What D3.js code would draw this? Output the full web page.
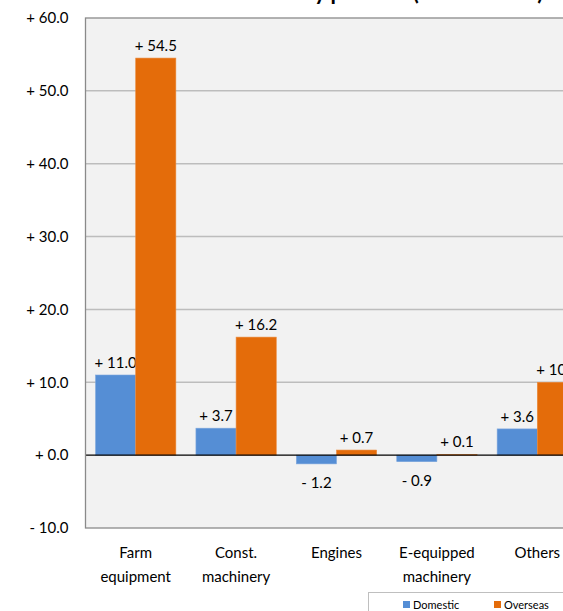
<!DOCTYPE html>
<html><head><meta charset="utf-8">
<script src="https://cdn.jsdelivr.net/npm/d3@7"></script>
<style>body{margin:0;background:#fff;} svg{display:block;font-family:Lato,"Open Sans",sans-serif;}</style>
</head><body>
<svg id="c" width="563" height="611"></svg>
<script>
const categories = [["Farm","equipment"],["Const.","machinery"],["Engines"],["E-equipped","machinery"],["Others"]];
const seriesNames = ["Domestic","Overseas"];
const domestic = [11.0, 3.7, -1.2, -0.9, 3.6];
const overseas = [54.5, 16.2, 0.7, 0.1, 10.0];
const yTicks = [-10,0,10,20,30,40,50,60];
const colors = ["#558ED5","#E46C0A"];
const title = "Sales Growth Rate by product (vs. Last Year)";

const svg = d3.select("#c");
const L = 85.5, T = 18, B = 528, R = 587.5;
const y = d3.scaleLinear().domain([-10,60]).range([B,T]);
const x0 = d3.scaleBand().domain(d3.range(categories.length)).range([L,R]).paddingInner(0.2).paddingOuter(0.1);
const x1 = d3.scaleBand().domain([0,1]).range([0,x0.bandwidth()]);
const fmt = v => (v < 0 ? "- " : "+ ") + d3.format(".1f")(Math.abs(v));

// title (cut off at the top edge, only descenders visible)
svg.append("text").attr("x",330).attr("y",-0.5).attr("text-anchor","middle")
  .attr("font-size",22).attr("font-weight","bold").attr("fill","#000").text(title);

// plot bg
svg.append("rect").attr("x",L).attr("y",T).attr("width",R-L).attr("height",B-T).attr("fill","#f2f2f2");

// grid
svg.append("g").selectAll("line").data(yTicks.filter(d=>d!==0 && d!==-10 && d!==60)).join("line")
  .attr("x1",L).attr("x2",R).attr("y1",d=>y(d)).attr("y2",d=>y(d))
  .attr("stroke","#bdbdbd").attr("stroke-width",1.5);

// y axis labels
const yAxis = d3.axisLeft(y).tickValues(yTicks).tickFormat(fmt).tickSize(0).tickPadding(17);
const ga = svg.append("g").attr("transform",`translate(${L},0)`).call(yAxis);
ga.select(".domain").remove();
ga.selectAll("text").attr("font-size",15).attr("font-family","Lato,sans-serif").attr("fill","#000");

// bars
const data = categories.map((c,i)=>({i, vals:[domestic[i], overseas[i]]}));
const g = svg.append("g");
data.forEach(d=>{
  d.vals.forEach((v,s)=>{
    const bx = x0(d.i) + x1(s);
    g.append("rect").attr("x",bx).attr("width",x1.bandwidth())
      .attr("y",y(Math.max(0,v))).attr("height",Math.abs(y(v)-y(0)))
      .attr("fill",colors[s]).attr("stroke", s===0?"#7ea7dd":"#ea8a3c").attr("stroke-width",0.6);
    g.append("text").attr("x",bx + x1.bandwidth()/2)
      .attr("y", v>=0 ? y(v)-7 : y(v)+24)
      .attr("text-anchor","middle").attr("font-size",15).attr("fill","#000").text(fmt(v));
  });
});

// zero line
svg.append("line").attr("x1",L).attr("x2",R).attr("y1",y(0)).attr("y2",y(0)).attr("stroke","#000").attr("stroke-width",1.3);
// border
svg.append("rect").attr("x",L).attr("y",T).attr("width",R-L).attr("height",B-T).attr("fill","none").attr("stroke","#8a8a8a").attr("stroke-width",1.3);

// category labels
const xa = svg.append("g");
categories.forEach((c,i)=>{
  const t = xa.append("text").attr("x",x0(i)+x0.bandwidth()/2).attr("y",558)
    .attr("text-anchor","middle").attr("font-size",15).attr("fill","#000");
  c.forEach((line,k)=>t.append("tspan").attr("x",x0(i)+x0.bandwidth()/2).attr("dy",k===0?0:24).text(line));
});

// legend
const lg = svg.append("g");
lg.append("rect").attr("x",368.5).attr("y",592.5).attr("width",260).attr("height",30).attr("fill","#fff").attr("stroke","#bfbfbf");
const lx = [403,494];
seriesNames.forEach((n,s)=>{
  lg.append("rect").attr("x",lx[s]).attr("y",601).attr("width",7).attr("height",7).attr("fill",colors[s]);
  lg.append("text").attr("x",lx[s]+10).attr("y",609).attr("font-size",11).attr("fill","#000").text(n);
});
</script>
</body></html>
